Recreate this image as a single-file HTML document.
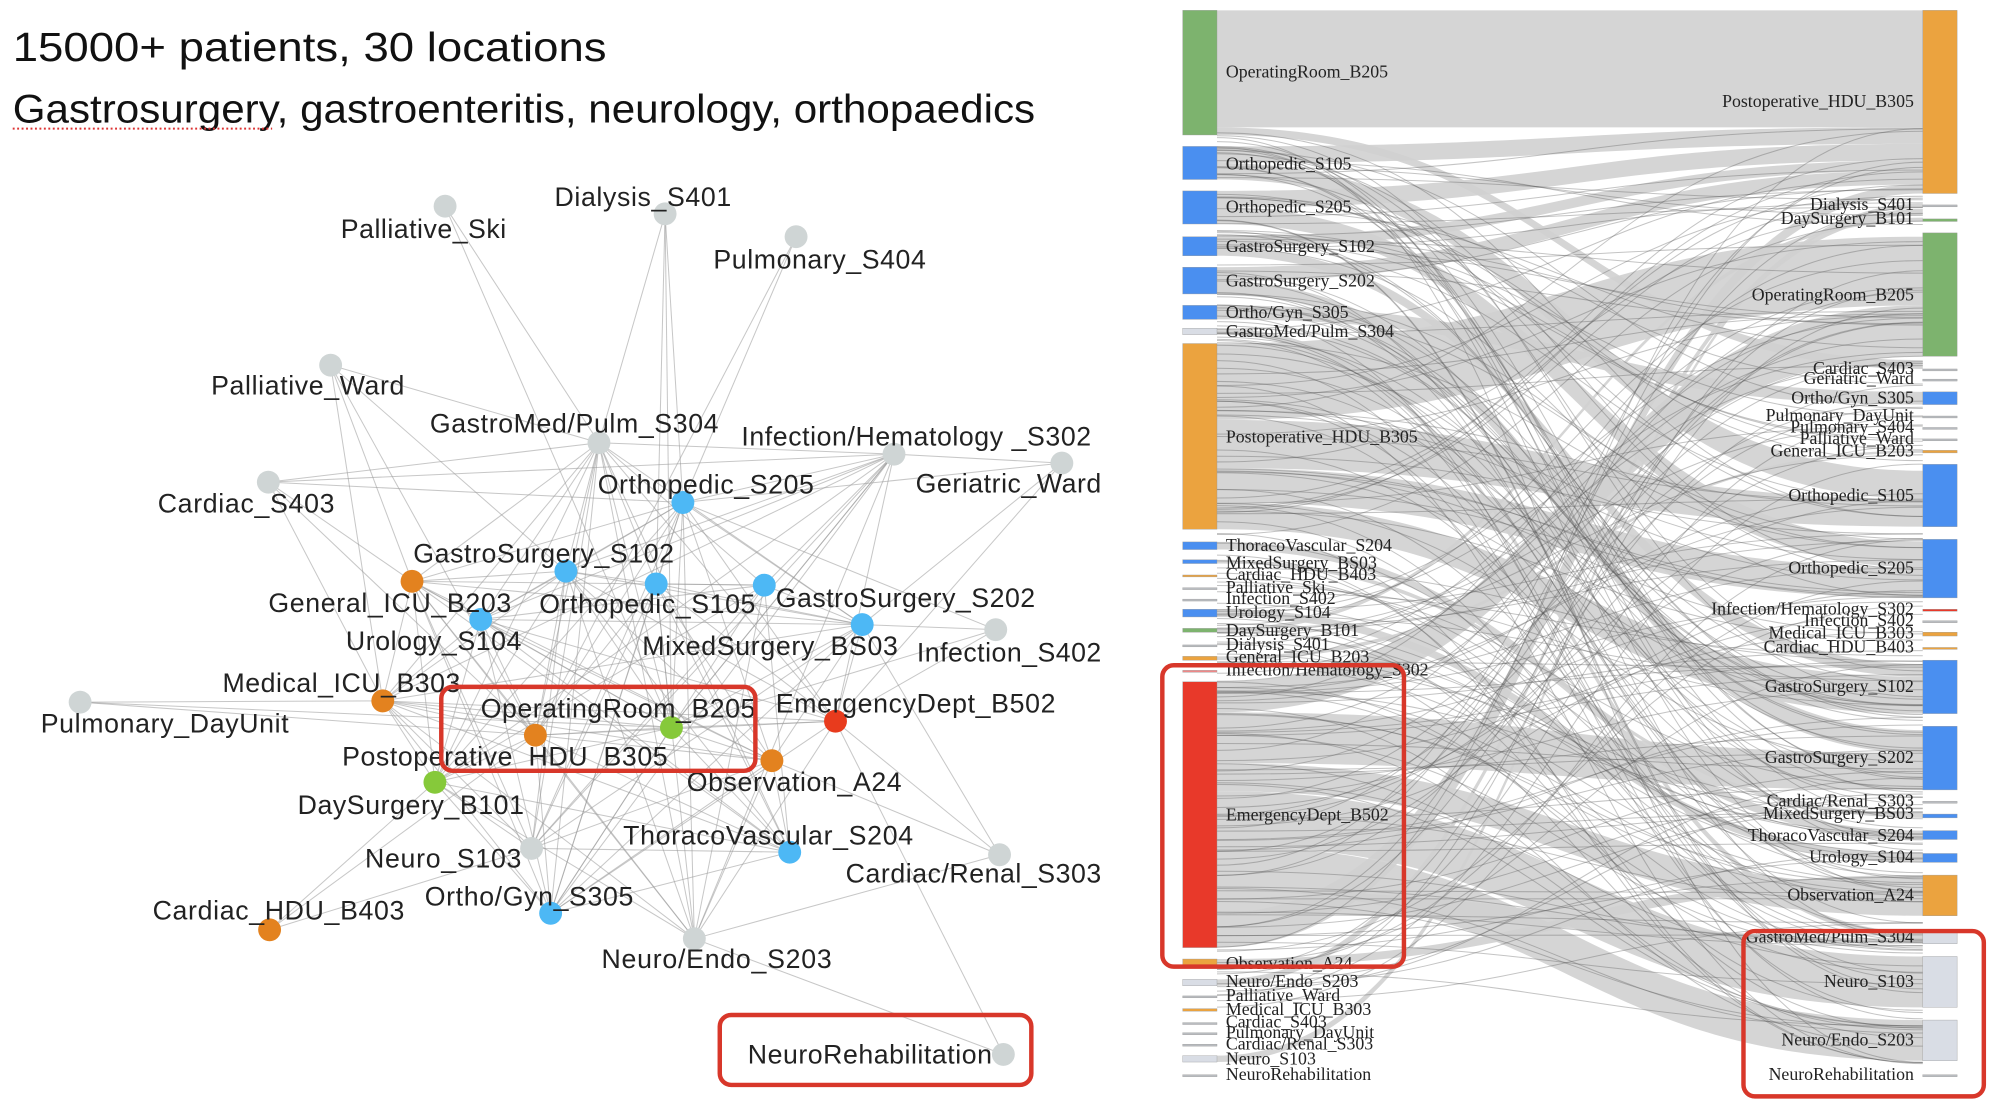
<!DOCTYPE html>
<html><head><meta charset="utf-8"><style>
html,body{margin:0;padding:0;background:#fff;width:1994px;height:1108px;overflow:hidden}
svg{display:block}
.nl{font-family:"Liberation Sans",sans-serif;font-size:21px;fill:#222}
.sl{font-family:"Liberation Serif",serif;font-size:14px;fill:#222}
.sr{font-family:"Liberation Serif",serif;font-size:14px;fill:#222;text-anchor:end}
</style></head><body>
<svg width="1994" height="1108" viewBox="0 0 1568 871" xmlns="http://www.w3.org/2000/svg">
<text x="10" y="48" font-family="Liberation Sans,sans-serif" font-size="32" fill="#111" textLength="467" lengthAdjust="spacingAndGlyphs">15000+ patients, 30 locations</text>
<text x="10" y="96" font-family="Liberation Sans,sans-serif" font-size="31" fill="#111" textLength="804" lengthAdjust="spacingAndGlyphs">Gastrosurgery, gastroenteritis, neurology, orthopaedics</text>
<line x1="10" y1="101" x2="214" y2="101" stroke="#d33" stroke-width="1.5" stroke-dasharray="1.5,2"/>
<g id="edges" stroke="#999" stroke-width="0.8" stroke-opacity="0.55"></g>
<g id="nodes"></g>
<g id="sankey"></g>
<g id="lines" fill="none" stroke="#555" stroke-opacity="0.35" stroke-width="0.8"></g>
<g id="sbars"></g>
<g class="nl" lengthAdjust="spacingAndGlyphs">
<text x="268" y="187" textLength="130">Palliative_Ski</text>
<text x="436" y="162" textLength="139">Dialysis_S401</text>
<text x="561" y="211" textLength="167">Pulmonary_S404</text>
<text x="166" y="310" textLength="152">Palliative_Ward</text>
<text x="338" y="340" textLength="227">GastroMed/Pulm_S304</text>
<text x="583" y="350" textLength="275">Infection/Hematology _S302</text>
<text x="720" y="387" textLength="146">Geriatric_Ward</text>
<text x="124" y="403" textLength="139">Cardiac_S403</text>
<text x="470" y="388" textLength="170">Orthopedic_S205</text>
<text x="325" y="442" textLength="205">GastroSurgery_S102</text>
<text x="211" y="481" textLength="191">General_ICU_B203</text>
<text x="424" y="482" textLength="170">Orthopedic_S105</text>
<text x="610" y="477" textLength="204">GastroSurgery_S202</text>
<text x="272" y="511" textLength="138">Urology_S104</text>
<text x="505" y="515" textLength="201">MixedSurgery_BS03</text>
<text x="721" y="520" textLength="145">Infection_S402</text>
<text x="175" y="544" textLength="187">Medical_ICU_B303</text>
<text x="32" y="576" textLength="195">Pulmonary_DayUnit</text>
<text x="378" y="564" textLength="216">OperatingRoom_B205</text>
<text x="610" y="560" textLength="220">EmergencyDept_B502</text>
<text x="269" y="602" textLength="256">Postoperative_HDU_B305</text>
<text x="540" y="622" textLength="169">Observation_A24</text>
<text x="234" y="640" textLength="178">DaySurgery_B101</text>
<text x="287" y="682" textLength="123">Neuro_S103</text>
<text x="490" y="664" textLength="228">ThoracoVascular_S204</text>
<text x="665" y="694" textLength="201">Cardiac/Renal_S303</text>
<text x="334" y="712" textLength="164">Ortho/Gyn_S305</text>
<text x="120" y="723" textLength="198">Cardiac_HDU_B403</text>
<text x="473" y="761" textLength="181">Neuro/Endo_S203</text>
<text x="588" y="836" textLength="192">NeuroRehabilitation</text>
</g>
<g class="sl">
<text x="964" y="61">OperatingRoom_B205</text>
<text x="964" y="133">Orthopedic_S105</text>
<text x="964" y="167">Orthopedic_S205</text>
<text x="964" y="198">GastroSurgery_S102</text>
<text x="964" y="225">GastroSurgery_S202</text>
<text x="964" y="250">Ortho/Gyn_S305</text>
<text x="964" y="265">GastroMed/Pulm_S304</text>
<text x="964" y="348">Postoperative_HDU_B305</text>
<text x="964" y="433">ThoracoVascular_S204</text>
<text x="964" y="447">MixedSurgery_BS03</text>
<text x="964" y="456">Cardiac_HDU_B403</text>
<text x="964" y="466">Palliative_Ski</text>
<text x="964" y="475">Infection_S402</text>
<text x="964" y="486">Urology_S104</text>
<text x="964" y="500">DaySurgery_B101</text>
<text x="964" y="511">Dialysis_S401</text>
<text x="964" y="521">General_ICU_B203</text>
<text x="964" y="531">Infection/Hematology_S302</text>
<text x="964" y="645">EmergencyDept_B502</text>
<text x="964" y="762">Observation_A24</text>
<text x="964" y="776">Neuro/Endo_S203</text>
<text x="964" y="787">Palliative_Ward</text>
<text x="964" y="798">Medical_ICU_B303</text>
<text x="964" y="808">Cardiac_S403</text>
<text x="964" y="816">Pulmonary_DayUnit</text>
<text x="964" y="825">Cardiac/Renal_S303</text>
<text x="964" y="837">Neuro_S103</text>
<text x="964" y="849">NeuroRehabilitation</text>
</g>
<g class="sr">
<text x="1505" y="84">Postoperative_HDU_B305</text>
<text x="1505" y="165">Dialysis_S401</text>
<text x="1505" y="176">DaySurgery_B101</text>
<text x="1505" y="236">OperatingRoom_B205</text>
<text x="1505" y="294">Cardiac_S403</text>
<text x="1505" y="302">Geriatric_Ward</text>
<text x="1505" y="317">Ortho/Gyn_S305</text>
<text x="1505" y="331">Pulmonary_DayUnit</text>
<text x="1505" y="340">Pulmonary_S404</text>
<text x="1505" y="349">Palliative_Ward</text>
<text x="1505" y="359">General_ICU_B203</text>
<text x="1505" y="394">Orthopedic_S105</text>
<text x="1505" y="451">Orthopedic_S205</text>
<text x="1505" y="483">Infection/Hematology_S302</text>
<text x="1505" y="492">Infection_S402</text>
<text x="1505" y="502">Medical_ICU_B303</text>
<text x="1505" y="513">Cardiac_HDU_B403</text>
<text x="1505" y="544">GastroSurgery_S102</text>
<text x="1505" y="600">GastroSurgery_S202</text>
<text x="1505" y="634">Cardiac/Renal_S303</text>
<text x="1505" y="644">MixedSurgery_BS03</text>
<text x="1505" y="661">ThoracoVascular_S204</text>
<text x="1505" y="678">Urology_S104</text>
<text x="1505" y="708">Observation_A24</text>
<text x="1505" y="741">GastroMed/Pulm_S304</text>
<text x="1505" y="776">Neuro_S103</text>
<text x="1505" y="822">Neuro/Endo_S203</text>
<text x="1505" y="849">NeuroRehabilitation</text>
</g>
<g fill="none" stroke="#d8372a" stroke-width="3.5">
<rect x="347" y="540" width="247" height="66" rx="9"/>
<rect x="566" y="798" width="245" height="55" rx="9"/>
<rect x="914" y="523" width="190" height="237" rx="9"/>
<rect x="1371" y="732" width="189" height="130" rx="9"/>
</g>
</svg>
<script>
var NS="http://www.w3.org/2000/svg";
function el(t,a,p){var e=document.createElementNS(NS,t);for(var k in a)e.setAttribute(k,a[k]);document.getElementById(p).appendChild(e);return e;}
var G="#cfd5d5",B="#4db8f5",O="#e3821f",Gr="#86c93a",R="#e83b1d";
var N=[[350,162,G],[523,168,G],[626,186,G],[260,287,G],[471,348,G],[703,357,G],[835,364,G],[211,379,G],[537,395,B],[445,449,B],[324,457,O],[516,459,B],[601,460,B],[378,487,B],[678,491,B],[783,495,G],[301,551,O],[63,552,G],[528,572,Gr],[657,567,R],[421,578,O],[607,598,O],[342,615,Gr],[418,667,G],[621,670,B],[786,672,G],[433,718,B],[212,731,O],[546,738,G],[789,829,G]];
var s=7;function rnd(){s=(s*16807)%2147483647;return s/2147483647;}
var core=[4,5,8,9,10,11,12,13,14,16,18,19,20,21,22,23,24,26,28];
for(var i=0;i<core.length;i++)for(var j=i+1;j<core.length;j++){if(rnd()<0.8){var a=N[core[i]],b=N[core[j]];el("line",{x1:a[0],y1:a[1],x2:b[0],y2:b[1]},"edges");}}
var extra=[[0,4],[0,18],[1,4],[1,8],[1,18],[1,11],[2,8],[2,20],[3,10],[3,16],[3,20],[3,4],[7,4],[7,5],[7,10],[7,16],[7,20],[6,8],[6,14],[6,5],[15,8],[15,14],[15,18],[15,19],[17,16],[17,18],[17,20],[25,19],[25,14],[25,28],[25,21],[27,22],[27,23],[27,20],[29,28],[29,19],[7,8],[3,9],[5,18],[6,19]];
extra.forEach(function(e){var a=N[e[0]],b=N[e[1]];el("line",{x1:a[0],y1:a[1],x2:b[0],y2:b[1]},"edges");});
N.forEach(function(n){el("circle",{cx:n[0],cy:n[1],r:9,fill:n[2]},"nodes");});
var L=957,Rx=1512,M=(L+Rx)/2;
function band(y0,y1,y2,y3){el("path",{d:"M"+L+","+y0+" C"+M+","+y0+" "+M+","+y2+" "+Rx+","+y2+" L"+Rx+","+y3+" C"+M+","+y3+" "+M+","+y1+" "+L+","+y1+"Z",fill:"#d0d0d0","fill-opacity":0.9},"sankey");}
[[8,100,8,100],[100,106,283,290],[115,128,100,113],[128,141,370,392],[150,163,113,126],[163,176,426,446],[186,194,126,134],[194,201,522,532],[210,221,134,145],[221,231,574,592],[240,251,308,318],[258,263,733,738],[270,330,186,240],[330,368,392,414],[368,395,446,470],[395,416,532,561],[426,432,653,660],[440,443,640,643],[479,485,671,678],[494,497,171,174],[516,519,354,356],[536,560,240,280],[560,600,592,621],[600,622,696,720],[622,665,752,792],[665,700,802,834],[700,718,738,742],[718,745,145,152],[754,760,688,696],[770,775,164,169],[830,835,160,163]].forEach(function(b){band(b[0],b[1],b[2],b[3]);});
for(var k=0;k<220;k++){var y0=100+rnd()*700,y1=100+rnd()*740;el("path",{d:"M"+L+","+y0.toFixed(1)+" C"+M+","+y0.toFixed(1)+" "+M+","+y1.toFixed(1)+" "+Rx+","+y1.toFixed(1)},"lines");}
function bar(x,y0,y1,c){el("rect",{x:x,y:y0,width:27,height:Math.max(1.5,y1-y0),fill:c,stroke:"#999","stroke-width":0.3},"sbars");}
var SG="#7db36e",SB="#4a8ff0",SO="#eba33f",SR="#e8392a",SGy="#d9dde5",SL="#b9bcc0";
[[8,106,SG],[115,141,SB],[150,176,SB],[186,201,SB],[210,231,SB],[240,251,SB],[258,263,SGy],[270,416,SO],[426,432,SB],[440,443,SB],[452,453.5,SO],[462,463.5,SL],[471,472.5,SL],[479,485,SB],[494,497,SG],[507,508.5,SL],[516,519,SO],[527,528.5,"#e88"],[536,745,SR],[754,760,SO],[770,775,SGy],[783,784.5,SL],[793,795,SO],[804,805.5,SL],[812,813.5,SL],[821,822.5,SL],[830,835,SGy],[845,846.5,SL]].forEach(function(b){bar(930,b[0],b[1],b[2]);});
[[8,152,SO],[161,162.5,SL],[172,174,SG],[183,280,SG],[290,291.5,SL],[298,299.5,SL],[308,318,SB],[327,328.5,SL],[336,337.5,SL],[345,346.5,SL],[354,356,SO],[365,414,SB],[424,470,SB],[479,480.5,SR],[488,489.5,SL],[497,500,SO],[509,510.5,SO],[519,561,SB],[571,621,SB],[630,631.5,SL],[640,643,SB],[653,660,SB],[671,678,SB],[688,720,SO],[733,742,SGy],[752,792,SGy],[802,834,SGy],[845,846.5,SL]].forEach(function(b){bar(1512,b[0],b[1],b[2]);});
</script>
</body></html>
